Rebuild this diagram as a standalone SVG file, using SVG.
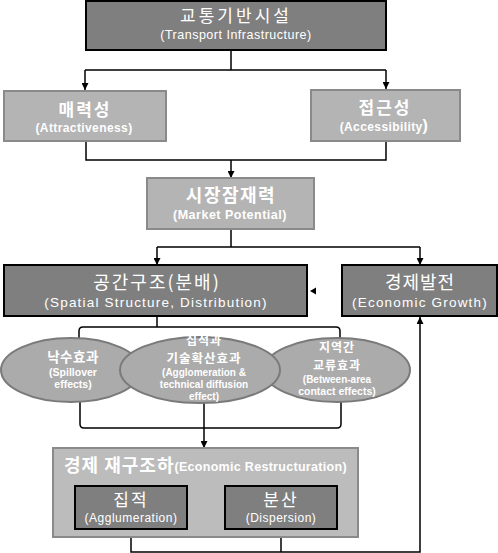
<svg xmlns="http://www.w3.org/2000/svg" width="498" height="553" viewBox="0 0 498 553">
<defs>
<style>
.dark{fill:#7f7f7f;stroke:#000;stroke-width:2}
.light{fill:#b4b4b4;stroke:#8a8a8a;stroke-width:2}
.ell{fill:#ababab;stroke:#7a7a7a;stroke-width:2}
.outer{fill:#bcbcbc;stroke:#8a8a8a;stroke-width:2}
.kr{font-family:"Noto Sans CJK KR","Noto Sans",sans-serif;fill:#fff;text-anchor:middle}
.en{font-family:"Liberation Sans","DejaVu Sans",sans-serif;fill:#fff;text-anchor:middle}
.b{font-weight:bold}
.ln{fill:none;stroke:#000;stroke-width:1.5}
</style>
<marker id="ah" viewBox="0 0 10 10" refX="10" refY="5" markerWidth="7" markerHeight="7" orient="auto" markerUnits="userSpaceOnUse">
<path d="M0,0 L10,5 L0,10 Z" fill="#000"/>
</marker>
</defs>
<rect width="498" height="553" fill="#fff"/>

<g id="connectors">
<path class="ln" d="M231,50 V70 M85,70 H386"/>
<path class="ln" d="M85,70 V90" marker-end="url(#ah)"/>
<path class="ln" d="M386,70 V89" marker-end="url(#ah)"/>
<path class="ln" d="M86,141 V160 H386 V141"/>
<path class="ln" d="M231,160 V178" marker-end="url(#ah)"/>
<path class="ln" d="M231,229 V247 M157,247 H420"/>
<path class="ln" d="M157,247 V265" marker-end="url(#ah)"/>
<path class="ln" d="M420,247 V265" marker-end="url(#ah)"/>
<path d="M310,291 L316,287.5 L316,294.5 Z" fill="#000"/>
<path class="ln" d="M157,316 V327 M79,338 V331 Q79,327 83,327 H336 Q340,327 340,331 V338"/>
<path class="ln" d="M80,402 V424 Q80,428 84,428 H337 Q341,428 341,424 V402"/>
<path class="ln" d="M204,402 V448" marker-end="url(#ah)"/>
<path class="ln" d="M131,529 V552 H420 V317" marker-end="url(#ah)"/>
<path class="ln" d="M281,529 V552"/>
</g>

<g id="transport">
<rect class="dark" x="86" y="1" width="300" height="49"/>
<text class="kr" x="236" y="22" font-size="17" letter-spacing="3">교통기반시설</text>
<text class="en" x="236" y="39" font-size="12.5" letter-spacing="0.5">(Transport Infrastructure)</text>
</g>

<g id="attract">
<rect class="light" x="4" y="91" width="162" height="50"/>
<text class="kr b" x="85" y="116" font-size="17" letter-spacing="2">매력성</text>
<text class="en b" x="84" y="132" font-size="12" letter-spacing="0.4">(Attractiveness)</text>
</g>

<g id="access">
<rect class="light" x="311" y="90" width="149" height="51"/>
<text class="kr b" x="385" y="114" font-size="17" letter-spacing="2">접근성</text>
<text class="en b" x="384" y="131" font-size="12" letter-spacing="0.4">(Accessibility<tspan font-size="16">)</tspan></text>
</g>

<g id="market">
<rect class="light" x="147" y="178" width="167" height="51"/>
<text class="kr b" x="231" y="202" font-size="18" letter-spacing="1.5">시장잠재력</text>
<text class="en b" x="230" y="219" font-size="12.5" letter-spacing="0.5">(Market Potential)</text>
</g>

<g id="spatial">
<rect class="dark" x="4" y="265" width="303" height="51"/>
<text class="kr" x="157" y="289" font-size="18" letter-spacing="2">공간구조(분배)</text>
<text class="en" x="156" y="307" font-size="13.5" letter-spacing="1.2">(Spatial Structure, Distribution)</text>
</g>

<g id="growth">
<rect class="dark" x="342" y="265" width="155" height="51"/>
<text class="kr" x="420" y="289" font-size="18" letter-spacing="1">경제발전</text>
<text class="en" x="420" y="307" font-size="13.5" letter-spacing="1.2">(Economic Growth)</text>
</g>

<g id="spillover">
<ellipse class="ell" cx="71" cy="370" rx="70" ry="32"/>
<text class="kr b" x="73" y="362" font-size="13.5" letter-spacing="0.5">낙수효과</text>
<text class="en b" x="73" y="376" font-size="10.5">(Spillover</text>
<text class="en b" x="73" y="388" font-size="10.5">effects)</text>
</g>

<g id="between">
<ellipse class="ell" cx="337" cy="370" rx="73" ry="32"/>
<text class="kr b" x="337" y="352" font-size="12" letter-spacing="1">지역간</text>
<text class="kr b" x="337" y="370" font-size="12" letter-spacing="1">교류효과</text>
<text class="en b" x="337" y="383" font-size="10">(Between-area</text>
<text class="en b" x="337" y="395" font-size="10.5">contact effects)</text>
</g>

<g id="agglo">
<ellipse class="ell" cx="200" cy="370" rx="80" ry="33"/>
<text class="kr b" x="204" y="345" font-size="12" letter-spacing="1">집적과</text>
<text class="kr b" x="204" y="363" font-size="12.5" letter-spacing="1">기술확산효과</text>
<text class="en b" x="204" y="376" font-size="10">(Agglomeration &amp;</text>
<text class="en b" x="204" y="388" font-size="10">technical diffusion</text>
<text class="en b" x="204" y="400" font-size="10">effect)</text>
</g>

<g id="restructuration">
<rect class="outer" x="53" y="448" width="305" height="89"/>
<text x="64" y="472" font-size="18" letter-spacing="1" font-family="'Noto Sans CJK KR','Noto Sans',sans-serif" fill="#fff" font-weight="bold">경제 재구조하<tspan font-family="'Liberation Sans','DejaVu Sans',sans-serif" font-size="12.5" letter-spacing="0.3" dy="-1">(Economic Restructuration)</tspan></text>
</g>

<g id="agglomeration">
<rect class="dark" x="75" y="486" width="112" height="43"/>
<text class="kr" x="131" y="506" font-size="17" letter-spacing="2">집적</text>
<text class="en" x="131" y="522" font-size="12" letter-spacing="0.5">(Agglumeration)</text>
</g>

<g id="dispersion">
<rect class="dark" x="225" y="486" width="112" height="43"/>
<text class="kr" x="281" y="506" font-size="17" letter-spacing="2">분산</text>
<text class="en" x="281" y="522" font-size="12" letter-spacing="0.5">(Dispersion)</text>
</g>
</svg>
